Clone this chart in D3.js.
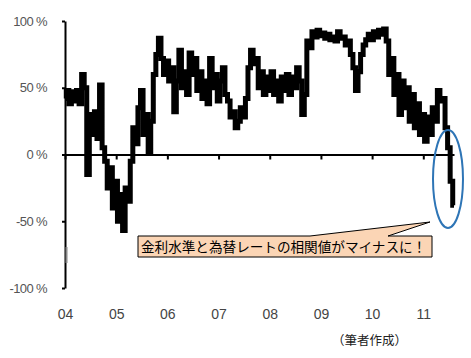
<!DOCTYPE html>
<html>
<head>
<meta charset="utf-8">
<script src="https://cdn.jsdelivr.net/npm/d3@7"></script>
<style>
  body { margin: 0; background: #fff; }
  svg { display: block; }
</style>
</head>
<body>
<div id="chart"></div>
<script>
// rolling correlation, sampled every 0.05 year starting 2004.0
const startYear = 2004;
const stepYear = 0.05;
const corr = [
  42, 48, 38, 47, 40, 48, 38, 60, 50, -15,
  30, 15, 32, 12, 52, 5, -5, -25, -10, -40,
  -20, -50, -30, -57, -25, -35, -5, 20, 8, 35,
  48, 15, 30, 2, 25, 60, 75, 87, 72, 60,
  70, 55, 65, 32, 55, 78, 50, 62, 45, 76,
  60, 72, 48, 62, 42, 55, 38, 72, 50, 60,
  40, 55, 65, 45, 40, 28, 32, 20, 25, 35,
  28, 42, 65, 78, 68, 72, 50, 62, 45, 58,
  48, 62, 45, 55, 40, 58, 48, 60, 45, 58,
  50, 65, 55, 30, 45, 85, 80, 92, 88, 93,
  89, 91, 87, 90, 86, 88, 85, 92, 87, 88,
  82, 85, 75, 65, 48, 62, 75, 82, 86, 90,
  86, 92, 88, 93, 90, 94, 85, 60, 72, 45,
  60, 30, 55, 35, 50, 25, 45, 20, 38, 15,
  30, 10, 28, 15, 35, 25, 48, 40, 42, 20,
  5, -20, -38
];
const yearTicks = [2004, 2005, 2006, 2007, 2008, 2009, 2010, 2011];
const yearLabels = ["04", "05", "06", "07", "08", "09", "10", "11"];
const pctTicks = [100, 50, 0, -50, -100];
const calloutText = "金利水準と為替レートの相関値がマイナスに！";
const sourceNote = "（筆者作成）";

const width = 471, height = 358;

const x = d3.scaleLinear().domain([2004, 2011.6]).range([65, 454]);
const y = d3.scaleLinear().domain([-100, 100]).range([288, 21]);

const svg = d3.select("#chart").append("svg")
    .attr("width", width)
    .attr("height", height)
    .style("font-family", "'Liberation Sans', Arial, sans-serif");

// y axis
const yAxis = svg.append("g")
    .attr("transform", `translate(${x(2004)},0)`)
    .call(d3.axisLeft(y)
        .tickValues(pctTicks)
        .tickSize(3)
        .tickSizeOuter(0)
        .tickPadding(15)
        .tickFormat(d => d + " %"));
yAxis.selectAll("path, line").attr("stroke", "#000").attr("stroke-width", 2);
yAxis.selectAll("text").attr("fill", "#555").style("font-size", "13px").style("letter-spacing", "-0.6px");

// stray grey mark on the axis
svg.append("rect")
    .attr("x", x(2004) + 0.5).attr("y", 247)
    .attr("width", 2).attr("height", 16)
    .attr("fill", "#888");

// zero line with year ticks
const xAxis = svg.append("g")
    .attr("transform", `translate(0,${y(0)})`)
    .call(d3.axisBottom(x)
        .tickValues(yearTicks)
        .tickSize(5)
        .tickSizeOuter(0)
        .tickFormat(""));
xAxis.selectAll("path, line").attr("stroke", "#000").attr("stroke-width", 2);

// year labels at the bottom
const xLabels = svg.append("g")
    .attr("transform", "translate(0,309)")
    .call(d3.axisBottom(x)
        .tickValues(yearTicks)
        .tickSize(0)
        .tickPadding(0)
        .tickFormat((d, i) => yearLabels[i]));
xLabels.select(".domain").remove();
xLabels.selectAll("text").attr("fill", "#444").style("font-size", "14px");

// the series, blocky like the original weekly plot
const line = d3.line()
    .curve(d3.curveStep)
    .x((d, i) => x(startYear + i * stepYear))
    .y(d => y(d));

svg.append("path")
    .datum(corr)
    .attr("fill", "none")
    .attr("stroke", "#000")
    .attr("stroke-width", 5)
    .attr("stroke-linejoin", "miter")
    .attr("d", line);

// blue ellipse round the last stretch
svg.append("ellipse")
    .attr("cx", 448).attr("cy", 179)
    .attr("rx", 15).attr("ry", 49)
    .attr("fill", "none")
    .attr("stroke", "#2e75b6")
    .attr("stroke-width", 2);

// callout
const box = { x: 138, y: 236, w: 294, h: 21 };
svg.append("path")
    .attr("d", `M${box.x},${box.y} H310 L430,222 L388,${box.y} H${box.x + box.w} V${box.y + box.h} H${box.x} Z`)
    .attr("fill", "#fbd5b5")
    .attr("stroke", "#000")
    .attr("stroke-width", 1);
svg.append("text")
    .attr("x", box.x + 3)
    .attr("y", box.y + 16)
    .style("font-family", "'Noto Sans CJK JP', sans-serif")
    .style("font-size", "13.6px")
    .attr("fill", "#000")
    .text(calloutText);

svg.append("text")
    .attr("x", 332)
    .attr("y", 345)
    .style("font-family", "'Noto Sans CJK JP', sans-serif")
    .style("font-size", "12.5px")
    .attr("fill", "#222")
    .text(sourceNote);
</script>
</body>
</html>
